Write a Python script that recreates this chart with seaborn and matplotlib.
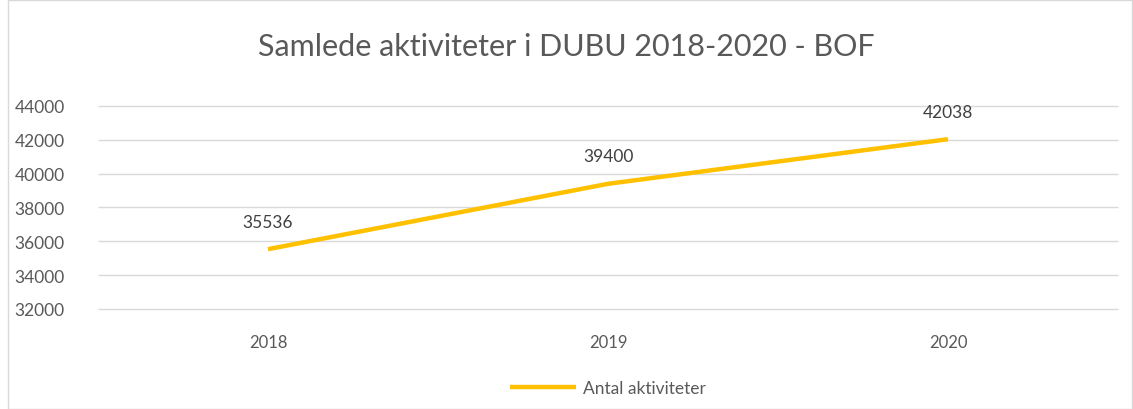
import matplotlib
matplotlib.use("Agg")
import matplotlib.pyplot as plt
import seaborn as sns
import pandas as pd
from matplotlib.patches import Rectangle

years = ["2018", "2019", "2020"]
values = [35536, 39400, 42038]
series_name = "Antal aktiviteter"
title = "Samlede aktiviteter i DUBU 2018-2020 - BOF"
yticks = [32000, 34000, 36000, 38000, 40000, 42000, 44000]

sns.set_theme(style="white")
plt.rcParams["font.family"] = ["Lato", "DejaVu Sans"]

df = pd.DataFrame({"year": years, "value": values, "series": series_name})

fig = plt.figure(figsize=(11.33, 4.10), dpi=100)
ax = fig.add_axes([98 / 1133, 1 - 311 / 410, (1118 - 98) / 1133, (311 - 107) / 410])

ax.hlines(yticks, -0.5, 2.5, colors="#d9d9d9", linewidth=1, zorder=0, clip_on=False)
sns.lineplot(data=df, x="year", y="value", hue="series", palette=["#FFC000"],
             linewidth=3.2, ax=ax, legend=True, solid_capstyle="butt", zorder=3)

ax.set_xlim(-0.5, 2.5)
ax.set_ylim(31940, 44000)
ax.set_yticks(yticks)
ax.set_yticklabels([str(v) for v in yticks])
ax.grid(False)
for s in ax.spines.values():
    s.set_visible(False)
ax.tick_params(axis="y", length=0, pad=24, labelsize=12.5, labelcolor="#595959")
ax.tick_params(axis="x", length=0, pad=17, labelsize=12, labelcolor="#595959")
ax.set_xlabel("")
ax.set_ylabel("")

for i, v in enumerate(values):
    ax.annotate(str(v), (i, v), xytext=(0, 14), textcoords="offset points",
                ha="center", va="bottom", fontsize=12.5, color="#404040")

leg = ax.legend(loc="upper center", bbox_to_anchor=(0.5, -0.265), frameon=False,
                fontsize=12.5, handlelength=3.8, handletextpad=0.4)
for t in leg.get_texts():
    t.set_color("#595959")

fig.text(0.5, 1 - 47 / 410, title, ha="center", va="center", fontsize=22, color="#595959")

fig.patches.append(Rectangle((8 / 1133, 0), 1 - 9 / 1133, 1 - 1 / 410, transform=fig.transFigure,
                             fill=False, edgecolor="#d9d9d9", linewidth=1))

fig.savefig("out.png", dpi=100)
